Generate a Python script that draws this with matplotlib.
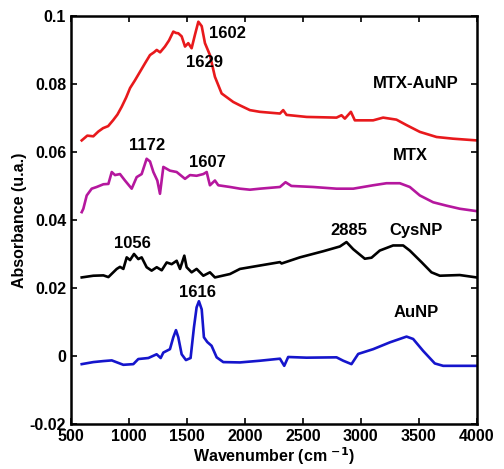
import matplotlib
matplotlib.use("Agg")
import matplotlib.pyplot as plt

plt.rcParams['font.family'] = ['Liberation Sans', 'DejaVu Sans']
plt.rcParams['font.weight'] = 'bold'
plt.rcParams['mathtext.default'] = 'bf'

# spectra (wavenumber, absorbance)
mtx_aunp_x = [592, 640, 692, 735, 776, 820, 862, 900, 937, 975, 1009, 1050, 1095, 1140, 1181, 1215, 1239, 1268,
              1310, 1345, 1382, 1405, 1425, 1454, 1483, 1511, 1540, 1569, 1598, 1627, 1655, 1698, 1741, 1799,
              1899, 1957, 2043, 2129, 2302, 2330, 2359, 2532, 2790, 2833, 2862, 2914, 2948, 3106, 3192, 3307,
              3394, 3509, 3653, 3796, 3998]
mtx_aunp_y = [0.0634, 0.0648, 0.0646, 0.0660, 0.0670, 0.0676, 0.0693, 0.0710, 0.0733, 0.0760, 0.0788, 0.0810,
              0.0836, 0.0862, 0.0885, 0.0893, 0.0900, 0.0893, 0.0910, 0.0928, 0.0954, 0.0950, 0.0949, 0.0940,
              0.0910, 0.0920, 0.0905, 0.0945, 0.0983, 0.0970, 0.0920, 0.0885, 0.0821, 0.0772, 0.0747, 0.0737,
              0.0723, 0.0718, 0.0713, 0.0723, 0.0709, 0.0703, 0.0701, 0.0708, 0.0698, 0.0718, 0.0693, 0.0693,
              0.0701, 0.0695, 0.0679, 0.0659, 0.0644, 0.0639, 0.0634]

mtx_x = [592, 606, 635, 678, 721, 779, 822, 851, 879, 922, 965, 1023, 1066, 1109, 1152, 1181, 1210, 1244, 1267,
         1296, 1353, 1411, 1483, 1526, 1583, 1641, 1670, 1684, 1698, 1741, 1770, 1871, 1957, 2043, 2129, 2302,
         2350, 2401, 2588, 2790, 2934, 3106, 3221, 3336, 3422, 3509, 3624, 3739, 3853, 3998]
mtx_y = [0.0423, 0.0433, 0.0472, 0.0492, 0.0497, 0.0505, 0.0506, 0.0541, 0.0532, 0.0535, 0.0516, 0.0492, 0.0526,
         0.0535, 0.0580, 0.0572, 0.0541, 0.0516, 0.0477, 0.0556, 0.0545, 0.0541, 0.0521, 0.0532, 0.0530, 0.0535,
         0.0541, 0.0521, 0.0502, 0.0516, 0.0502, 0.0497, 0.0492, 0.0489, 0.0492, 0.0497, 0.0511, 0.0500, 0.0497,
         0.0492, 0.0492, 0.0502, 0.0508, 0.0508, 0.0497, 0.0472, 0.0452, 0.0442, 0.0433, 0.0426]

cysnp_x = [592, 692, 779, 822, 894, 922, 951, 980, 1009, 1043, 1080, 1109, 1152, 1195, 1239, 1282, 1325, 1368,
           1411, 1440, 1477, 1497, 1540, 1583, 1641, 1698, 1741, 1871, 1957, 2129, 2302, 2316, 2474, 2675, 2819,
           2876, 2934, 3034, 3092, 3163, 3278, 3365, 3422, 3523, 3609, 3681, 3853, 3998]
cysnp_y = [0.0231, 0.0236, 0.0237, 0.0232, 0.0256, 0.0262, 0.0256, 0.0290, 0.0282, 0.0300, 0.0285, 0.0290,
           0.0261, 0.0251, 0.0261, 0.0252, 0.0275, 0.0270, 0.0280, 0.0256, 0.0295, 0.0261, 0.0246, 0.0256, 0.0236,
           0.0246, 0.0231, 0.0241, 0.0256, 0.0266, 0.0276, 0.0272, 0.0290, 0.0308, 0.0322, 0.0335, 0.0314, 0.0286,
           0.0289, 0.0310, 0.0325, 0.0325, 0.0310, 0.0276, 0.0246, 0.0236, 0.0238, 0.0231]

aunp_x = [592, 692, 779, 851, 951, 1037, 1080, 1167, 1238, 1273, 1296, 1353, 1382, 1405, 1425, 1454, 1491, 1531,
          1560, 1583, 1603, 1627, 1646, 1675, 1712, 1756, 1813, 1957, 2129, 2302, 2339, 2373, 2531, 2790, 2848,
          2919, 2977, 3106, 3250, 3394, 3451, 3537, 3638, 3710, 3998]
aunp_y = [-0.0024, -0.0018, -0.0015, -0.0013, -0.0026, -0.0024, -0.0009, -0.0006, 0.0005, -0.0006, 0.0010,
          0.0020, 0.0055, 0.0076, 0.0055, 0.0005, -0.0012, -0.0006, 0.0084, 0.0143, 0.0161, 0.0137, 0.0055,
          0.0041, 0.0030, -0.0004, -0.0018, -0.0019, -0.0014, -0.0008, -0.0029, -0.0003, -0.0005, -0.0004,
          -0.0014, -0.0024, 0.0006, 0.0020, 0.0040, 0.0057, 0.0050, 0.0015, -0.0022, -0.0029, -0.0029]

# peak / curve labels: (text, x, y)
labels = [("1602", 1845, 0.0947), ("1629", 1655, 0.0864), ("MTX-AuNP", 3474, 0.0800),
          ("1172", 1159, 0.0620), ("1607", 1677, 0.0570), ("MTX", 3426, 0.0590),
          ("1056", 1030, 0.0330), ("2885", 2896, 0.0369), ("CysNP", 3478, 0.0369),
          ("1616", 1590, 0.0187), ("AuNP", 3478, 0.0128)]

fig = plt.figure(figsize=(5.04, 4.69), dpi=100)
ax = fig.add_axes([0.141, 0.096, 0.805, 0.870])

ax.plot(mtx_aunp_x, mtx_aunp_y, color='#e8191c', lw=1.9)
ax.plot(mtx_x, mtx_y, color='#b5179e', lw=1.9)
ax.plot(cysnp_x, cysnp_y, color='black', lw=1.9)
ax.plot(aunp_x, aunp_y, color='#1515cc', lw=1.9)

for txt, lx, ly in labels:
    ax.text(lx, ly, txt, ha='center', va='center', fontsize=12, fontweight='bold')

ax.set_xlim(500, 4000)
ax.set_ylim(-0.02, 0.1)
ax.set_xticks([500, 1000, 1500, 2000, 2500, 3000, 3500, 4000])
ax.set_yticks([-0.02, 0, 0.02, 0.04, 0.06, 0.08, 0.1])
ax.set_yticklabels(['-0.02', '0', '0.02', '0.04', '0.06', '0.08', '0.1'])
ax.tick_params(direction='in', top=True, right=True, labelsize=11.5, width=1.2, length=4.5)
for s in ax.spines.values():
    s.set_linewidth(1.8)
for t in ax.get_xticklabels() + ax.get_yticklabels():
    t.set_fontweight('bold')

ax.set_xlabel('Wavenumber (cm $^{-1}$)', fontsize=11.5, fontweight='bold', labelpad=1)
ax.set_ylabel('Absorbance (u.a.)', fontsize=11.5, fontweight='bold', labelpad=2)

fig.savefig('out.png', dpi=100)
